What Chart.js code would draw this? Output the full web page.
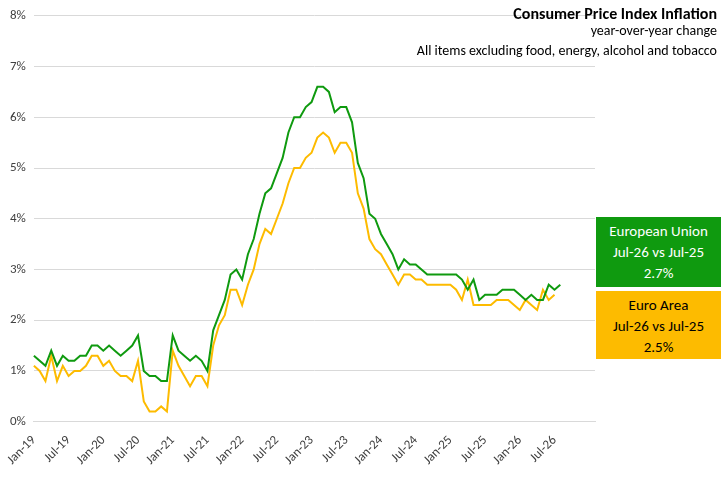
<!DOCTYPE html>
<html><head><meta charset="utf-8">
<script src="https://cdn.jsdelivr.net/npm/chart.js@4"></script>
<style>
body{margin:0;background:#fff;font-family:Calibri,Carlito,"Liberation Sans",sans-serif}
#wrap{position:relative;width:721px;height:481px}
.t{position:absolute;right:4px;text-align:right;color:#000}
.box{position:absolute;left:596px;width:125px;color:#fff;text-align:center;font-size:15px;line-height:21px;padding-top:4px;box-sizing:border-box}
</style></head><body>
<div id="wrap">
<canvas id="c" width="721" height="481"></canvas>
<div class="t" style="top:4px;font-weight:bold;font-size:16px">Consumer Price Index Inflation</div>
<div class="t" style="top:22px;font-size:14px">year-over-year change</div>
<div class="t" style="top:42px;font-size:14px">All items excluding food, energy, alcohol and tobacco</div>
<div class="box" style="top:217px;height:70px;background:#0f9a0f">European Union<br>Jul-26 vs Jul-25<br>2.7%</div>
<div class="box" style="top:291px;height:68px;background:#fdbb00;color:#000">Euro Area<br>Jul-26 vs Jul-25<br>2.5%</div>
</div>
<script>
const months = ["Jan","Feb","Mar","Apr","May","Jun","Jul","Aug","Sep","Oct","Nov","Dec"];
const labels = [];
for (let y = 19; y <= 27; y++) for (const m of months) labels.push(m + "-" + y);
labels.length = 98;

const euValues = [
  1.3,1.2,1.1,1.4,1.1,1.3,1.2,1.2,1.3,1.3,1.5,1.5,
  1.4,1.5,1.4,1.3,1.4,1.5,1.7,1.0,0.9,0.9,0.8,0.8,
  1.7,1.4,1.3,1.2,1.3,1.2,1.0,1.8,2.1,2.4,2.9,3.0,
  2.8,3.3,3.6,4.1,4.5,4.6,4.9,5.2,5.7,6.0,6.0,6.2,
  6.3,6.6,6.6,6.5,6.1,6.2,6.2,5.9,5.1,4.8,4.1,4.0,
  3.7,3.5,3.3,3.0,3.2,3.1,3.1,3.0,2.9,2.9,2.9,2.9,
  2.9,2.9,2.8,2.6,2.8,2.4,2.5,2.5,2.5,2.6,2.6,2.6,
  2.5,2.4,2.5,2.4,2.4,2.7,2.6,2.7
];
const eaValues = [
  1.1,1.0,0.8,1.3,0.8,1.1,0.9,1.0,1.0,1.1,1.3,1.3,
  1.1,1.2,1.0,0.9,0.9,0.8,1.2,0.4,0.2,0.2,0.3,0.2,
  1.4,1.1,0.9,0.7,0.9,0.9,0.7,1.5,1.9,2.1,2.6,2.6,
  2.3,2.7,3.0,3.5,3.8,3.7,4.0,4.3,4.7,5.0,5.0,5.2,
  5.3,5.6,5.7,5.6,5.3,5.5,5.5,5.3,4.5,4.2,3.6,3.4,
  3.3,3.1,2.9,2.7,2.9,2.9,2.8,2.8,2.7,2.7,2.7,2.7,
  2.7,2.6,2.4,2.8,2.3,2.3,2.3,2.3,2.4,2.4,2.4,2.3,
  2.2,2.4,2.3,2.2,2.6,2.4,2.5
];

new Chart(document.getElementById("c"), {
  type: "line",
  data: {
    labels: labels,
    datasets: [
      { label: "European Union", data: euValues, borderColor: "#0f9a0f", borderWidth: 2, pointRadius: 0, tension: 0 },
      { label: "Euro Area", data: eaValues, borderColor: "#fdbb00", borderWidth: 2, pointRadius: 0, tension: 0 }
    ]
  },
  options: {
    responsive: false, animation: false,
    layout: { padding: { left: 2, right: 126, top: 0, bottom: 10 } },
    plugins: { legend: { display: false }, tooltip: { enabled: false } },
    scales: {
      x: {
        offset: false,
        grid: { display: false },
        border: { color: "#d9d9d9" },
        ticks: {
          autoSkip: false, maxRotation: 45, minRotation: 45, color: "#404040",
          font: { size: 13, family: "Carlito, 'Liberation Sans', sans-serif" },
          callback: (v, i) => (i % 6 === 0 && i <= 90) ? labels[i] : null
        }
      },
      y: {
        min: 0, max: 8,
        grid: { color: "#d9d9d9", drawTicks: false },
        border: { display: false },
        ticks: { stepSize: 1, padding: 8, color: "#404040", font: { size: 13, family: "Carlito, 'Liberation Sans', sans-serif" }, callback: v => v + "%" }
      }
    }
  }
});
</script>
</body></html>
